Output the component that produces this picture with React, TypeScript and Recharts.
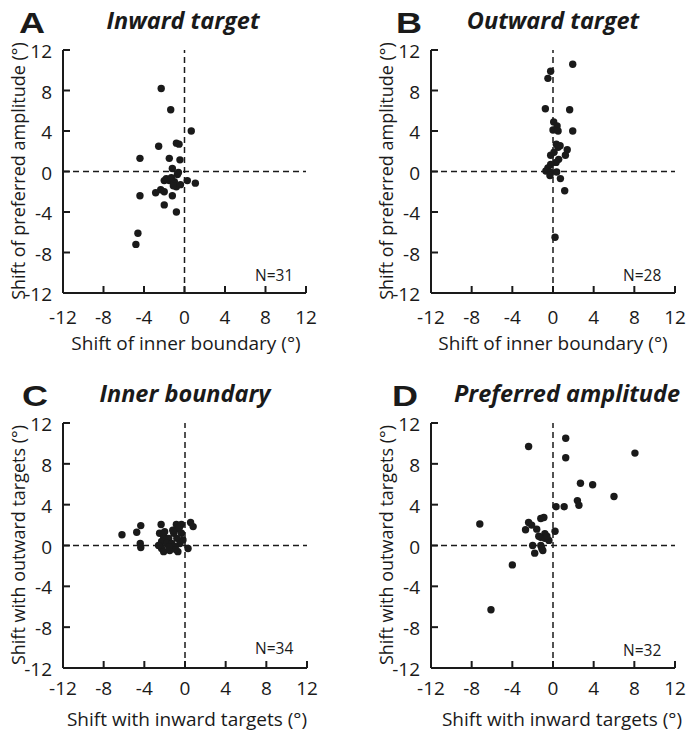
import { ScatterChart, Scatter, XAxis, YAxis, ReferenceLine } from 'recharts';

const TICKS = [-12, -8, -4, 0, 4, 8, 12];

// A: inward target
const inwardBoundaryX = [-2.3, -1.36, 0.67, -2.55, -0.8, -0.54, -4.4, -1.5, -0.45, -1.2, -0.7, 0.28, 1.07, -2.0, -1.5, -1.0, -0.8, -2.35, -2.85, -2.0, -4.4, -1.2, -2.0, -0.8, -4.6, -4.8, -1.8, -1.3, -0.6, -1.1, -0.4];
const inwardAmplitudeY = [8.2, 6.1, 4.0, 2.5, 2.8, 2.7, 1.3, 1.3, 1.15, 0.3, -0.3, -0.9, -1.15, -0.9, -0.9, -1.0, -1.5, -1.8, -2.1, -2.0, -2.4, -2.4, -3.3, -4.0, -6.1, -7.2, -0.7, -0.6, -0.1, -1.4, -1.3];

// B: outward target
const outwardBoundaryX = [1.94, -0.23, -0.5, -0.75, 1.64, 0.07, 0.4, 0.0, 0.5, 1.94, 0.33, 0.7, 0.5, 1.4, 1.22, -0.23, 0.56, 0.3, -0.23, -0.5, -0.7, -0.23, 0.36, -0.3, 0.73, 1.15, 0.2, 0.1];
const outwardAmplitudeY = [10.6, 9.9, 9.2, 6.2, 6.1, 4.9, 4.5, 4.1, 4.0, 4.0, 2.7, 2.55, 2.4, 2.15, 1.6, 1.6, 1.2, 0.9, 0.7, 0.35, 0.05, -0.1, -0.05, -0.4, -0.7, -1.9, -6.5, 1.9];

// C: inner boundary
const boundaryInwardX = [-6.2, -4.35, -4.75, -4.4, -4.35, -2.35, -2.5, -0.85, -0.35, 0.55, 0.8, -0.65, -1.1, -2.1, -1.6, -0.8, -2.3, -1.8, -1.3, -0.5, -2.3, -2.1, -1.5, -0.7, 0.3, -1.0, -0.2, -1.2, -2.0, -0.35, -2.6, -0.55, -1.6, -0.9];
const boundaryOutwardY = [1.05, 1.95, 1.3, 0.2, -0.2, 2.05, 1.2, 2.05, 2.05, 2.25, 1.85, 1.6, 1.2, 0.85, 0.7, 0.7, 0.4, 0.2, 0.2, 0.2, -0.3, -0.6, -0.5, -0.6, -0.3, -0.1, 0.55, 1.5, 1.35, 1.2, 0.0, 1.8, -0.15, -0.4];

// D: preferred amplitude
const amplitudeInwardX = [1.25, -2.4, 1.25, 8.06, 2.7, 3.9, 6.0, 2.4, 2.55, 0.3, 1.1, -7.2, -1.2, -0.9, -2.4, -2.1, -2.7, -1.6, 0.2, -0.8, -1.2, -0.4, -0.8, -2.0, -1.2, -1.0, -1.8, -4.0, -6.1, -0.6, -1.1, -1.4];
const amplitudeOutwardY = [10.5, 9.7, 8.6, 9.05, 6.1, 5.95, 4.8, 4.4, 3.95, 3.8, 3.8, 2.1, 2.65, 2.75, 2.25, 2.0, 1.55, 1.6, 1.4, 1.15, 0.8, 0.5, 0.7, 0.0, 0.0, -0.5, -0.75, -1.9, -6.3, 0.9, -0.3, 0.9];

const FONT = '"Open Sans", sans-serif';
const INK = '#1a1a1a';

const toPoints = (xs: number[], ys: number[]) => xs.map((x, i) => ({ x, y: ys[i] }));

const Dot = (props: any) => <circle cx={props.cx} cy={props.cy} r={3.7} fill={INK} />;

const makeXTick = (labelOffset: number) => (props: any) => {
  const { x, y, payload } = props;
  return (
    <g>
      <line x1={x} x2={x} y1={y} y2={y - 7} stroke={INK} strokeWidth={2} />
      <text x={x} y={y + labelOffset} textAnchor="middle" fontSize={19} fontFamily={FONT} fill={INK}>
        {payload.value}
      </text>
    </g>
  );
};

const YTick = (props: any) => {
  const { x, y, payload } = props;
  return (
    <g>
      <line x1={x} x2={x + 7} y1={y} y2={y} stroke={INK} strokeWidth={2} />
      <text x={x - 11} y={y + 8} textAnchor="end" fontSize={19} fontFamily={FONT} fill={INK}>
        {payload.value}
      </text>
    </g>
  );
};

interface PanelProps {
  left: number;
  top: number;
  height: number;
  margin: { top: number; right: number; bottom: number; left: number };
  data: { x: number; y: number }[];
  xTickOffset: number;
}

function Panel({ left, top, height, margin, data, xTickOffset }: PanelProps) {
  return (
    <div style={{ position: 'absolute', left, top }}>
      <ScatterChart width={343} height={height} margin={margin}>
        <XAxis
          type="number"
          dataKey="x"
          domain={[-12, 12]}
          ticks={TICKS}
          height={30}
          tickSize={0}
          tickMargin={0}
          tickLine={false}
          axisLine={{ stroke: INK, strokeWidth: 2 }}
          tick={makeXTick(xTickOffset)}
          interval={0}
        />
        <YAxis
          type="number"
          dataKey="y"
          domain={[-12, 12]}
          ticks={TICKS}
          width={30}
          tickSize={0}
          tickMargin={0}
          tickLine={false}
          axisLine={{ stroke: INK, strokeWidth: 2 }}
          tick={YTick}
          interval={0}
        />
        <ReferenceLine x={0} stroke={INK} strokeWidth={1.5} strokeDasharray="6 4" />
        <ReferenceLine y={0} stroke={INK} strokeWidth={1.5} strokeDasharray="6 4" />
        <Scatter data={data} shape={Dot} isAnimationActive={false} />
      </ScatterChart>
    </div>
  );
}

const abs = (extra: React.CSSProperties): React.CSSProperties => ({
  position: 'absolute',
  fontFamily: FONT,
  color: INK,
  whiteSpace: 'nowrap',
  lineHeight: 1,
  ...extra,
});

// panel letter, y is the baseline
const Letter = ({ text, x, y }: { text: string; x: number; y: number }) => (
  <div style={abs({ left: x, top: y - 21, height: 22, lineHeight: '22px', fontFamily: '"Liberation Sans", Arial, sans-serif', fontWeight: 700, fontSize: 30, transform: 'scaleX(1.2)', transformOrigin: 'left top' })}>
    {text}
  </div>
);

const Title = ({ text, cx, baseline }: { text: string; cx: number; baseline: number }) => (
  <div style={abs({ left: cx - 150, width: 300, textAlign: 'center', top: baseline - 24, fontSize: 23.5, fontWeight: 700, fontStyle: 'italic' })}>
    {text}
  </div>
);

const XTitle = ({ text, cx, baseline }: { text: string; cx: number; baseline: number }) => (
  <div style={abs({ left: cx - 150, width: 300, textAlign: 'center', top: baseline - 17, fontSize: 19 })}>{text}</div>
);

const YTitle = ({ text, cx, cy }: { text: string; cx: number; cy: number }) => (
  <div style={abs({ left: cx - 140, top: cy - 9, width: 280, height: 18, textAlign: 'center', fontSize: 18, transform: 'rotate(-90deg)', transformOrigin: 'center' })}>
    {text}
  </div>
);

const NLabel = ({ text, x, baseline }: { text: string; x: number; baseline: number }) => (
  <div style={abs({ left: x, top: baseline - 14, fontSize: 15.5 })}>{text}</div>
);

export default function App() {
  return (
    <div style={{ position: 'absolute', left: 0, top: 0, width: 686, height: 731, background: '#fff', overflow: 'hidden' }}>
      <Panel left={0} top={0} height={365} margin={{ top: 50, right: 37, bottom: 42, left: 33 }} data={toPoints(inwardBoundaryX, inwardAmplitudeY)} xTickOffset={31} />
      <Panel left={343} top={0} height={365} margin={{ top: 50, right: 11, bottom: 42, left: 58 }} data={toPoints(outwardBoundaryX, outwardAmplitudeY)} xTickOffset={31} />
      <Panel left={0} top={365} height={366} margin={{ top: 58, right: 36, bottom: 33, left: 33 }} data={toPoints(boundaryInwardX, boundaryOutwardY)} xTickOffset={27} />
      <Panel left={343} top={365} height={366} margin={{ top: 58, right: 11, bottom: 33, left: 58 }} data={toPoints(amplitudeInwardX, amplitudeOutwardY)} xTickOffset={27} />

      <Letter text="A" x={19} y={33} />
      <Letter text="B" x={396} y={33} />
      <Letter text="C" x={22} y={406} />
      <Letter text="D" x={392} y={406} />

      <Title text="Inward target" cx={183} baseline={33} />
      <Title text="Outward target" cx={553} baseline={33} />
      <Title text="Inner boundary" cx={185} baseline={406} />
      <Title text="Preferred amplitude" cx={567} baseline={406} />

      <YTitle text="Shift of preferred amplitude (°)" cx={18} cy={171} />
      <YTitle text="Shift of preferred amplitude (°)" cx={386} cy={171} />
      <YTitle text="Shift with outward targets (°)" cx={18} cy={545} />
      <YTitle text="Shift with outward targets (°)" cx={386} cy={545} />

      <XTitle text="Shift of inner boundary (°)" cx={186} baseline={351} />
      <XTitle text="Shift of inner boundary (°)" cx={553} baseline={351} />
      <XTitle text="Shift with inward targets (°)" cx={187} baseline={727} />
      <XTitle text="Shift with inward targets (°)" cx={562} baseline={727} />

      <NLabel text="N=31" x={255} baseline={282} />
      <NLabel text="N=28" x={623} baseline={282} />
      <NLabel text="N=34" x={255} baseline={655} />
      <NLabel text="N=32" x={623} baseline={657} />
    </div>
  );
}
